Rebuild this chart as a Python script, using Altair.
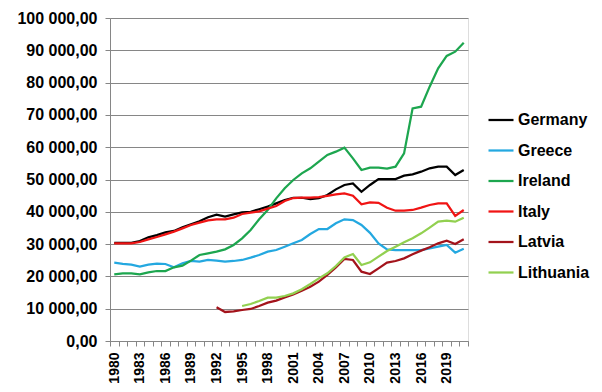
import altair as alt
import pandas as pd

years = list(range(1980, 2022))

germany = [30400, 30400, 30400, 30960, 32100, 32800, 33650, 34060, 35200, 36100,
           37050, 38300, 39100, 38500, 39200, 39800, 40000, 40800, 41600, 42600,
           43650, 44350, 44350, 43950, 44200, 45200, 46950, 48300, 48800, 46200,
           48300, 50150, 50150, 50150, 51180, 51600, 52420, 53460, 53970, 53970,
           51390, 52940]
greece = [24250, 23900, 23630, 23010, 23630, 23940, 23840, 22810, 24040, 24770,
          24560, 25080, 24870, 24560, 24770, 25080, 25800, 26630, 27660, 28170,
          29200, 30240, 31270, 33130, 34670, 34670, 36430, 37670, 37460, 35910,
          33500, 30200, 28380, 28170, 28170, 28170, 28170, 28690, 29210, 29720,
          27350, 28590]
ireland = [20640, 20950, 20950, 20640, 21260, 21670, 21670, 22810, 23320, 24870,
           26630, 27140, 27660, 28380, 29720, 31790, 34370, 37670, 40560, 44170,
           47270, 49850, 51910, 53460, 55520, 57590, 58620, 59860, 56530, 52940,
           53670, 53670, 53360, 53970, 58100, 72030, 72550, 78740, 84420, 88240,
           89580, 92360]
italy = [30240, 30240, 30240, 30650, 31480, 32200, 33030, 33850, 34880, 35910,
         36640, 37360, 37670, 37670, 38180, 39320, 39730, 40150, 40970, 41800,
         43340, 44270, 44380, 44380, 44580, 44900, 45400, 45730, 45000, 42310,
         42930, 42800, 41270, 40340, 40340, 40560, 41270, 42100, 42620, 42620,
         38700, 40560]
latvia_years = list(range(1992, 2022))
latvia = [10420, 8980, 9190, 9600, 9910, 10840, 11870, 12490, 13520, 14450,
          15580, 16820, 18370, 20430, 22810, 25390, 25080, 21460, 20740, 22500,
          24250, 24770, 25590, 26830, 27970, 29000, 30240, 31060, 30030, 31480]
lithuania_years = list(range(1995, 2022))
lithuania = [10840, 11460, 12380, 13420, 13420, 13930, 14760, 16000, 17650, 19400,
             20950, 23220, 25900, 26930, 23530, 24360, 26110, 27860, 29210, 30550,
             31790, 33330, 35090, 36950, 37260, 36950, 38180]

countries = ["Germany", "Greece", "Ireland", "Italy", "Latvia", "Lithuania"]
colors = ["#000000", "#24A8E0", "#1DA64F", "#F01414", "#A3131B", "#92D050"]

rows = []
for name, ys, vals in [("Germany", years, germany), ("Greece", years, greece),
                       ("Ireland", years, ireland), ("Italy", years, italy),
                       ("Latvia", latvia_years, latvia),
                       ("Lithuania", lithuania_years, lithuania)]:
    for y, v in zip(ys, vals):
        rows.append({"year": y, "value": v, "country": name})
df = pd.DataFrame(rows)

FONT = "Liberation Sans"

chart = alt.Chart(df).mark_line(strokeWidth=2.25).encode(
    x=alt.X("year:O", bandPosition=0.5,
            scale=alt.Scale(type="band", domain=years, paddingInner=0, paddingOuter=0),
            axis=alt.Axis(title=None, tickBand="extent",
                          labelExpr="(datum.value - 1980) % 3 == 0 ? datum.value : ''",
                          labelAngle=270, labelAlign="right", labelBaseline="middle",
                          labelFont=FONT, labelFontSize=14, labelFontWeight="bold",
                          labelColor="#000000", labelPadding=6, tickSize=5,
                          tickColor="#868686", domainColor="#868686", grid=False)),
    y=alt.Y("value:Q", scale=alt.Scale(domain=[0, 100000], nice=False),
            axis=alt.Axis(title=None, values=list(range(0, 100001, 10000)),
                          labelExpr="replace(replace(format(datum.value, ',.2f'), regexp(',', 'g'), ' '), '.', ',')",
                          labelFont=FONT, labelFontSize=16, labelFontWeight="bold",
                          labelColor="#000000", labelPadding=8, tickSize=5,
                          tickColor="#868686", domainColor="#868686",
                          gridColor="#868686", gridWidth=1)),
    color=alt.Color("country:N", scale=alt.Scale(domain=countries, range=colors),
                    legend=alt.Legend(title=None, orient="none", legendX=377, legendY=88,
                                      symbolType="stroke", symbolSize=625,
                                      symbolStrokeWidth=2.25, labelFont=FONT,
                                      labelFontSize=16, labelFontWeight="bold",
                                      labelColor="#000000", labelOffset=3,
                                      rowPadding=8.5)),
).properties(
    width=358, height=323,
    autosize=alt.AutoSizeParams(type="none"),
    padding={"left": 102, "top": 10, "right": 126, "bottom": 43},
).configure_view(stroke=None).configure(background="white")

chart.save("out.html", embed_options={"renderer": "svg", "actions": False})
